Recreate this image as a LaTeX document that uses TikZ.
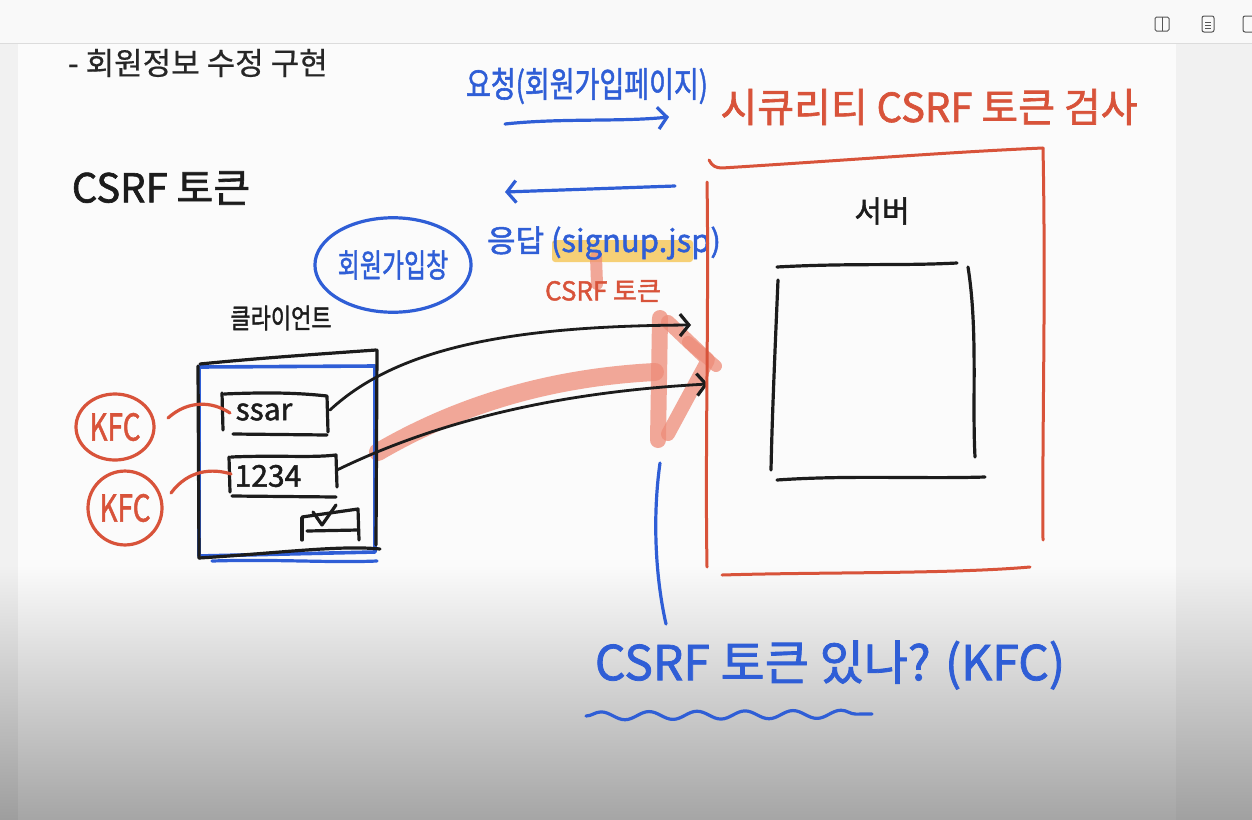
\documentclass[tikz,border=0pt]{standalone}
\usepackage{fontspec}
\setmainfont{Noto Sans CJK KR}
\newfontfamily\handfont[FakeBold=1.6]{Noto Sans CJK KR}
\newfontfamily\titlefont[FakeBold=0.6]{Noto Sans CJK KR}
\usetikzlibrary{arrows.meta,shapes.geometric,decorations.pathmorphing}
\newcommand\fsz[1]{\fontsize{#1}{#1}\selectfont}
\definecolor{penblue}{HTML}{2F5ED6}
\definecolor{penred}{HTML}{D8533A}
\definecolor{penblack}{HTML}{1C1C1C}
\definecolor{hlsalmon}{HTML}{EE8C78}
\definecolor{hlyellow}{HTML}{F5C24A}
\definecolor{barbg}{HTML}{F9F9F9}
\definecolor{barline}{HTML}{DCDCDC}
\definecolor{pagebg}{HTML}{FBFBFB}
\definecolor{sidebg}{HTML}{F1F1F1}
\definecolor{iconc}{HTML}{555555}
\begin{document}
\begin{tikzpicture}[x=1pt,y=-1pt,
  pen/.style={line width=3.2pt, line cap=round, line join=round},
  hl/.style={line width=#1, line cap=round, line join=round, draw=hlsalmon, draw opacity=0.75},
  txt/.style={inner sep=0pt, outer sep=0pt},
  barb/.style={-{Straight Barb[length=9pt,width=22pt,line width=3.2pt]}}]
\useasboundingbox (0,0) rectangle (1252,819);
% ---------- background ----------
\fill[barbg] (0,0) rectangle (1252,43);
\draw[barline, line width=1.5pt] (0,43.5) -- (1252,43.5);
\fill[sidebg] (0,44) rectangle (18,819);
\fill[pagebg] (18,44) rectangle (1176,819);
\fill[sidebg] (1176,44) rectangle (1252,819);
\shade[top color=sidebg, bottom color=black!38] (0,565) rectangle (18,819);
\shade[top color=pagebg, bottom color=black!35] (18,565) rectangle (1176,819);
\shade[top color=sidebg, bottom color=black!37] (1176,565) rectangle (1252,819);
% toolbar icons
\draw[iconc, line width=1pt, rounded corners=1.5] (1155,17) rectangle (1169,31);
\draw[iconc, line width=1pt] (1162,17) -- (1162,31);
\draw[iconc, line width=1pt, rounded corners=2] (1202,16) rectangle (1214,32);
\draw[iconc, line width=1pt] (1205,22) -- (1211,22) (1205,25) -- (1211,25) (1205,28) -- (1211,28);
\draw[iconc, line width=1pt, rounded corners=2] (1243,16) rectangle (1256,32);
% ---------- title ----------
\node[txt, anchor=west, text=black!85, font=\titlefont\fsz{31}] (title) at (68,63) {- 회원정보 수정 구현};
% ---------- highlights ----------
\fill[hlyellow, opacity=0.75, rounded corners=3pt] (552,240) rectangle (693,262);
\draw[hl=12pt] (596,257) -- (597,284);
\draw[hl=18pt] (378,452) .. controls (450,410) and (540,378) .. (655,372);
\draw[hl=16pt] (660,318) -- (658,440);
\draw[hl=14pt] (668,322) -- (708,360) -- (668,434);
\draw[hl=12pt] (688,342) -- (716,366);
% ---------- texts ----------
\node[txt, text=penblue, font=\handfont\fsz{27}, yscale=1.3] (req) at (587,86) {요청(회원가입페이지)};
\node[txt, text=penred, font=\handfont\fsz{40}] (sec) at (929,107) {시큐리티 CSRF 토큰 검사};
\node[txt, text=penblack, font=\handfont\fsz{40}] (csrf) at (161,188) {CSRF 토큰};
\node[txt, text=penblue, font=\handfont\fsz{31}] (resp) at (604,243) {응답 (signup.jsp)};
\node[txt, text=penred, font=\handfont\fsz{26}] (tok) at (603,291) {CSRF 토큰};
\node[pen, draw=penblue, ellipse, inner sep=0pt, minimum width=130pt, minimum height=70pt, text=penblue, font=\handfont\fsz{24}, yscale=1.35] (join) at (393,265) {회원가입창};
\node[txt, text=penblack, font=\handfont\fsz{22}, yscale=1.25] (client) at (281,318) {클라이언트};
\node[txt, text=penblack, font=\handfont\fsz{30}] (idtxt) at (264,412) {ssar};
\node[txt, text=penblack, font=\handfont\fsz{30}] (pwtxt) at (268,476) {1234};
\node[pen, draw=penred, ellipse, inner sep=0pt, minimum width=78pt, minimum height=50pt, text=penred, font=\handfont\fsz{28}, yscale=1.32] (kfc1) at (115,427) {KFC};
\node[pen, draw=penred, ellipse, inner sep=0pt, minimum width=74pt, minimum height=56pt, text=penred, font=\handfont\fsz{28}, yscale=1.32] (kfc2) at (125,508) {KFC};
\node[txt, text=penblack, font=\handfont\fsz{30}] (srv) at (882,211) {서버};
\node[txt, text=penblue, font=\handfont\fsz{48}] (ask) at (830,665) {CSRF 토큰 있나? (KFC)};
% ---------- arrows request / response ----------
\coordinate (reqA) at (505,124);
\coordinate (reqB) at (669,117);
\draw[pen, penblue, barb] (reqA) .. controls (560,118) and (620,122) .. (reqB);
\coordinate (respA) at (675,186);
\coordinate (respB) at (505,192);
\draw[pen, penblue, barb] (respA) -- (respB);
% ---------- client form ----------
\draw[pen, penblue, line width=3.6pt] (199,367) -- (375,366) -- (375,552) -- (199,556) -- cycle;
\draw[pen, penblue] (212,561) .. controls (280,559) and (330,563) .. (377,561);
\draw[pen, penblack] (200,364) .. controls (260,358) and (320,354) .. (376,350);
\draw[pen, penblack] (377,350) -- (376,545);
\draw[pen, penblack] (198,366) -- (199,558);
\draw[pen, penblack] (199,558) .. controls (280,553) and (340,545) .. (380,549);
% input boxes
\draw[pen, penblack] (222,393) -- (223,430);
\draw[pen, penblack] (224,394) .. controls (270,392) and (300,393) .. (327,396) -- (328,432);
\draw[pen, penblack] (233,434) -- (327,435);
\draw[pen, penblack] (229,457) -- (230,492);
\draw[pen, penblack] (231,457) .. controls (280,455) and (310,458) .. (336,455) -- (337,487);
\draw[pen, penblack] (232,496) -- (336,497);
% checkbox
\draw[pen, penblack] (302,518) -- (302,540);
\draw[pen, penblack] (302,517) -- (358,509) -- (359,540);
\draw[pen, penblack] (307,531) -- (358,530);
\draw[pen, penblack] (313,512) -- (322,525) -- (336,505);
% ---------- KFC connectors ----------
\coordinate (k1s) at (168,418);
\coordinate (k1e) at (230,413);
\coordinate (k2s) at (171,493);
\coordinate (k2e) at (231,474);
\draw[pen, penred] (k1s) .. controls (188,400) and (212,401) .. (k1e);
\draw[pen, penred] (k2s) .. controls (188,470) and (212,468) .. (k2e);
% ---------- client -> server arrows ----------
\coordinate (a1s) at (330,410);
\coordinate (a1e) at (691,325);
\coordinate (a2s) at (337,470);
\coordinate (a2e) at (708,384);
\draw[pen, penblack, line width=2.8pt, barb] (a1s) .. controls (400,345) and (520,326) .. (a1e);
\draw[pen, penblack, line width=2.8pt, barb] (a2s) .. controls (440,420) and (560,392) .. (a2e);
% ---------- server ----------
\draw[pen, penred, line width=3pt] (709,160) .. controls (712,166) and (716,168) .. (722,168) .. controls (850,160) and (950,152) .. (1043,148);
\draw[pen, penred, line width=3pt] (1043,148) .. controls (1046,300) and (1042,430) .. (1043,540);
\draw[pen, penred, line width=3pt] (707,182) .. controls (709,300) and (705,450) .. (707,567);
\draw[pen, penred, line width=3pt] (722,575) .. controls (820,572) and (950,574) .. (1030,567);
\draw[pen, penblack] (777,267) .. controls (850,263) and (900,266) .. (957,263);
\draw[pen, penblack] (968,267) .. controls (978,330) and (972,400) .. (975,457);
\draw[pen, penblack] (778,280) .. controls (775,350) and (772,420) .. (771,470);
\draw[pen, penblack] (777,480) .. controls (850,475) and (920,479) .. (985,477);
% ---------- question ----------
\coordinate (qtop) at (660,463);
\coordinate (qbot) at (666,624);
\draw[pen, penblue] (qtop) .. controls (652,520) and (656,580) .. (qbot);
\draw[pen, penblue, decorate, decoration={snake, segment length=48pt, amplitude=4pt}] (586,716) -- (872,714);
\end{tikzpicture}
\end{document}
